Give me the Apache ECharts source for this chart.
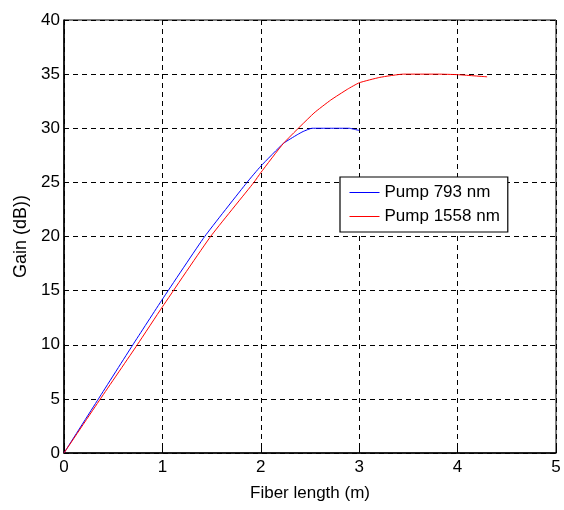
<!DOCTYPE html>
<html>
<head>
<meta charset="utf-8">
<script src="https://cdn.jsdelivr.net/npm/echarts@6/dist/echarts.min.js"></script>
<style>
  html, body { margin: 0; padding: 0; background: #fff; }
  #chart { width: 564px; height: 510px; }
</style>
</head>
<body>
<div id="chart"></div>
<script>
// fiber length (m) and gain (dB)
const pump793X = [0, 0.35, 0.70, 1.0, 1.43, 1.86, 2.0, 2.23, 2.37, 2.43, 2.52, 2.7, 2.9, 2.95, 3.0]
const pump793Y = [0, 5, 10, 14.2, 20, 25, 26.5, 28.6, 29.4, 29.7, 30, 30, 30, 29.9, 29.8]
const pump1558X = [0, 0.37, 0.745, 1.0, 1.49, 1.93, 2.0, 2.23, 2.54, 2.71, 2.88, 3.0, 3.21, 3.45, 3.8, 4.0, 4.3]
const pump1558Y = [0, 5, 10, 13.5, 20, 25, 25.9, 28.6, 31.4, 32.6, 33.6, 34.2, 34.7, 35, 35, 34.95, 34.75]
const seriesNames = ['Pump 793 nm', 'Pump 1558 nm']

const font = 'Liberation Sans, Arial, sans-serif'

const zip = (xs, ys) => xs.map((x, i) => [x, ys[i]])

const chart = echarts.init(document.getElementById('chart'))

const splitLine = {
  show: true,
  lineStyle: { color: '#000', type: [5, 4], width: 1 },
}

chart.setOption({
  animation: false,
  backgroundColor: '#fff',
  textStyle: { fontFamily: font },
  grid: {
    left: 64,
    right: 8,
    top: 20,
    bottom: 57,
    show: true,
    borderColor: '#000',
    borderWidth: 1,
  },
  legend: {
    data: seriesNames,
    orient: 'vertical',
    left: 340,
    top: 177,
    padding: [7, 8, 7, 9],
    itemGap: 7,
    itemWidth: 30,
    itemHeight: 14,
    itemStyle: { opacity: 0 },
    lineStyle: { width: 1 },
    borderColor: '#000',
    borderWidth: 1.2,
    backgroundColor: '#fff',
    textStyle: { fontSize: 17, color: '#000', fontFamily: font },
  },
  xAxis: {
    type: 'value',
    min: 0,
    max: 5,
    interval: 1,
    name: 'Fiber length (m)',
    nameLocation: 'middle',
    nameGap: 32,
    nameTextStyle: { fontSize: 17, color: '#000', fontFamily: font },
    axisLine: { lineStyle: { color: '#000', width: 1.5 } },
    axisTick: { inside: true, length: 5, lineStyle: { color: '#000' } },
    axisLabel: { fontSize: 17, color: '#000', margin: 6, fontFamily: font },
    splitLine,
  },
  yAxis: {
    type: 'value',
    min: 0,
    max: 40,
    interval: 5,
    name: 'Gain (dB))',
    nameLocation: 'middle',
    nameGap: 33,
    nameTextStyle: { fontSize: 18, color: '#000', fontFamily: font },
    axisLine: { show: true, lineStyle: { color: '#000', width: 1.5 } },
    axisTick: { show: true, inside: true, length: 5, lineStyle: { color: '#000' } },
    axisLabel: { fontSize: 17, color: '#000', margin: 4, fontFamily: font },
    splitLine,
  },
  series: [
    {
      name: seriesNames[0],
      type: 'line',
      symbol: 'none',
      smooth: 0.15,
      color: '#0000ff',
      lineStyle: { width: 1 },
      data: zip(pump793X, pump793Y),
    },
    {
      name: seriesNames[1],
      type: 'line',
      symbol: 'none',
      smooth: 0.15,
      color: '#ff0000',
      lineStyle: { width: 1 },
      data: zip(pump1558X, pump1558Y),
    },
  ],
})
</script>
</body>
</html>
